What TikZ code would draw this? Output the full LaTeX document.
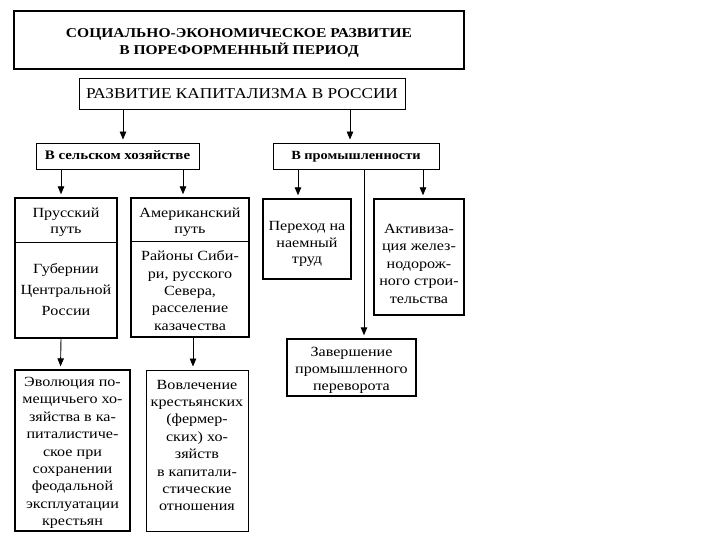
\documentclass[tikz,border=0pt]{standalone}
\usepackage{fontspec}
\setmainfont[FakeStretch=1.15]{Liberation Serif}
\usetikzlibrary{arrows.meta}
\tikzset{
  box/.style={draw=black, line width=1.4pt, inner sep=0pt},
  thinbox/.style={draw=black, line width=0.9pt, align=center, inner sep=1pt},
  txt/.style={align=center, inner sep=0pt, font=\fontsize{14}{17.4}\selectfont},
  arr/.style={-{Triangle[length=8pt,width=6.5pt]}, line width=0.9pt, shorten >=3pt},
}
\begin{document}
\begin{tikzpicture}[x=1pt,y=-1pt]
\useasboundingbox (0,0) rectangle (720,540);
% title
\node[draw=black, line width=2pt, minimum width=450pt, minimum height=58pt, inner sep=0pt] (title) at (239,40) {};
\node[align=center, inner sep=0pt, font=\bfseries\fontsize{13.5}{17}\selectfont] (titlet) at (239,42.5)
  {СОЦИАЛЬНО-ЭКОНОМИЧЕСКОЕ РАЗВИТИЕ\\В ПОРЕФОРМЕННЫЙ ПЕРИОД};
\node[thinbox, minimum width=326pt, minimum height=31pt, font=\fontsize{15}{18}\selectfont] (kap) at (242,93.5)
  {РАЗВИТИЕ КАПИТАЛИЗМА В РОССИИ};
\node[thinbox, minimum width=163pt, minimum height=26pt, text height=9.5pt, text depth=2.5pt, font=\bfseries\fontsize{13}{15}\selectfont] (agri) at (117.5,156)
  {В сельском хозяйстве};
\node[thinbox, minimum width=166pt, minimum height=26pt, text height=9.5pt, text depth=2.5pt, font=\bfseries\fontsize{12.5}{15}\selectfont] (ind) at (356,156)
  {В промышленности};
\draw[arr] ([xshift=5.5pt]agri.north |- kap.south) -- ([xshift=5.5pt]agri.north);
\draw[arr] ([xshift=-6pt]ind.north |- kap.south) -- ([xshift=-6pt]ind.north);
% Prussian
\node[box, minimum width=102pt, minimum height=140pt] (prus) at (66,268) {};
\draw[line width=0.9pt] (prus.west |- 0,242) coordinate (pd1) -- (prus.east |- 0,242) coordinate (pd2);
\node[txt, font=\fontsize{14}{16}\selectfont] (prust) at (66,222) {Прусский\\путь};
\node[txt, font=\fontsize{14}{21}\selectfont] (prusb) at (66,290) {Губернии\\Центральной\\России};
% American
\node[box, minimum width=118pt, minimum height=139pt] (amer) at (190,267.5) {};
\draw[line width=0.9pt] (amer.west |- 0,241) coordinate (ad1) -- (amer.east |- 0,241) coordinate (ad2);
\node[txt, font=\fontsize{14}{16}\selectfont] (amert) at (190,222) {Американский\\путь};
\node[txt] (amerb) at (190,290.5) {Районы Сиби-\\ри, русского\\Севера,\\расселение\\казачества};
\draw[arr] ([xshift=-5pt]prus.north |- agri.south) -- ([xshift=-5pt]prus.north);
\draw[arr] ([xshift=-7pt]amer.north |- agri.south) -- ([xshift=-7pt]amer.north);
% bottom left boxes
\node[box, minimum width=115pt, minimum height=161pt] (evol) at (72.5,450.5) {};
\node[txt] (evolt) at (72.5,453)
  {Эволюция по-\\мещичьего хо-\\зяйства в ка-\\питалистиче-\\ское при\\сохранении\\феодальной\\эксплуатации\\крестьян};
\node[box, line width=1pt, minimum width=102pt, minimum height=161pt] (vovl) at (197,450.5) {};
\node[txt] (vovlt) at (197,445.5)
  {Вовлечение\\крестьянских\\(фермер-\\ских) хо-\\зяйств\\в капитали-\\стические\\отношения};
\draw[arr] ([xshift=-5pt]prus.south) -- ([xshift=-12pt]evol.north);
\draw[arr] ([xshift=3pt]amer.south) -- ([xshift=-4pt]vovl.north);
% industry
\node[box, minimum width=88pt, minimum height=80pt] (per) at (307,239) {};
\node[txt, font=\fontsize{14}{16.5}\selectfont] (pert) at (307,244) {Переход на\\наемный\\труд};
\node[box, minimum width=90pt, minimum height=116pt] (akt) at (419,257) {};
\node[txt, font=\fontsize{14}{17.5}\selectfont] (aktt) at (419,263.5) {Активиза-\\ция желез-\\нодорож-\\ного строи-\\тельства};
\node[box, minimum width=129pt, minimum height=57pt] (zav) at (351.5,367.5) {};
\node[txt, font=\fontsize{14}{17}\selectfont] (zavt) at (351.5,370.5) {Завершение\\промышленного\\переворота};
\draw[arr] ([xshift=-58pt]ind.south) -- ([xshift=-9pt]per.north);
\draw[arr] ([xshift=67pt]ind.south) -- ([xshift=4pt]akt.north);
\draw[arr] ([xshift=8pt]ind.south) -- ([xshift=12.5pt]zav.north);
\end{tikzpicture}
\end{document}
